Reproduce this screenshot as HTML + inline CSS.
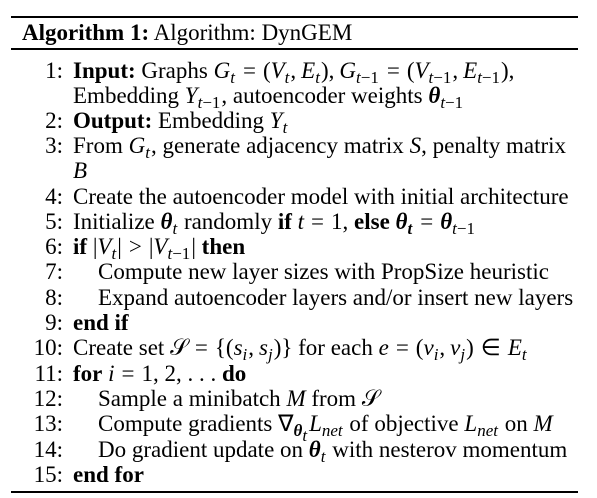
<!DOCTYPE html>
<html><head><meta charset="utf-8"><style>
body{margin:0;width:597px;height:498px;background:#fff;position:relative;overflow:hidden;font-family:"Liberation Serif",serif;font-size:23px;color:#000}
.rule{position:absolute;left:11px;width:567px;background:#000}
.row{position:absolute;left:0;white-space:nowrap;line-height:22px}
.num{position:absolute;left:0;width:63px;text-align:right}
.txt{position:absolute;left:73px}
.in{left:98px}
i{font-style:italic}
sub{font-size:17px;vertical-align:-5px;line-height:0;padding-right:1px}
.bi{font-weight:bold;font-style:italic}
.op{display:inline-block;padding:0 7px}
.c{padding-right:5px}
</style></head><body>
<div class="rule" style="top:16px;height:2px"></div>
<div class="row" style="top:22px;left:22px"><b>Algorithm 1:</b> Algorithm: DynGEM</div>
<div class="rule" style="top:48px;height:2px"></div>

<div class="row" style="top:60px"><span class="num">1:</span><span class="txt"><b>Input:</b> Graphs <i>G</i><sub><i>t</i></sub><span class="op">=</span>(<i>V</i><sub><i>t</i></sub><span class="c">,</span><i>E</i><sub><i>t</i></sub>)<span class="c">,</span><i>G</i><sub><i>t</i>−1</sub><span class="op">=</span>(<i>V</i><sub><i>t</i>−1</sub><span class="c">,</span><i>E</i><sub><i>t</i>−1</sub>),</span></div>
<div class="row" style="top:85px"><span class="txt">Embedding <i>Y</i><sub><i>t</i>−1</sub>, autoencoder weights <span class="bi">θ</span><sub><i>t</i>−1</sub></span></div>
<div class="row" style="top:110px"><span class="num">2:</span><span class="txt"><b>Output:</b> Embedding <i>Y</i><sub><i>t</i></sub></span></div>
<div class="row" style="top:135px"><span class="num">3:</span><span class="txt">From <i>G</i><sub><i>t</i></sub>, generate adjacency matrix <i>S</i>, penalty matrix</span></div>
<div class="row" style="top:160px"><span class="txt"><i>B</i></span></div>
<div class="row" style="top:186px"><span class="num">4:</span><span class="txt">Create the autoencoder model with initial architecture</span></div>
<div class="row" style="top:211px"><span class="num">5:</span><span class="txt">Initialize <span class="bi">θ</span><sub><i>t</i></sub> randomly <b>if</b> <i>t</i><span class="op">=</span>1, <b>else</b> <span class="bi">θ</span><sub><b><i>t</i></b></sub><span class="op">=</span><span class="bi">θ</span><sub><i>t</i>−1</sub></span></div>
<div class="row" style="top:236px"><span class="num">6:</span><span class="txt"><b>if</b> |<i>V</i><sub><i>t</i></sub>|<span class="op">&gt;</span>|<i>V</i><sub><i>t</i>−1</sub>| <b>then</b></span></div>
<div class="row" style="top:261px"><span class="num">7:</span><span class="txt in">Compute new layer sizes with PropSize heuristic</span></div>
<div class="row" style="top:287px"><span class="num">8:</span><span class="txt in">Expand autoencoder layers and/or insert new layers</span></div>
<div class="row" style="top:312px"><span class="num">9:</span><span class="txt"><b>end if</b></span></div>
<div class="row" style="top:337px"><span class="num">10:</span><span class="txt">Create set 𝒮<span class="op">=</span>{(<i>s</i><sub><i>i</i></sub><span class="c">,</span><i>s</i><sub><i>j</i></sub>)} for each <i>e</i><span class="op">=</span>(<i>v</i><sub><i>i</i></sub><span class="c">,</span><i>v</i><sub><i>j</i></sub>)<span class="op">∈</span><i>E</i><sub><i>t</i></sub></span></div>
<div class="row" style="top:363px"><span class="num">11:</span><span class="txt"><b>for</b> <i>i</i><span class="op">=</span>1, 2, . . . <b>do</b></span></div>
<div class="row" style="top:388px"><span class="num">12:</span><span class="txt in">Sample a minibatch <i>M</i> from 𝒮</span></div>
<div class="row" style="top:413px"><span class="num">13:</span><span class="txt in">Compute gradients ∇<sub><span class="bi">θ</span><sub><i>t</i></sub></sub><i>L</i><sub><i>net</i></sub> of objective <i>L</i><sub><i>net</i></sub> on <i>M</i></span></div>
<div class="row" style="top:439px"><span class="num">14:</span><span class="txt in">Do gradient update on <span class="bi">θ</span><sub><i>t</i></sub> with nesterov momentum</span></div>
<div class="row" style="top:464px"><span class="num">15:</span><span class="txt"><b>end for</b></span></div>
<div class="rule" style="top:491px;height:2px"></div>
</body></html>
